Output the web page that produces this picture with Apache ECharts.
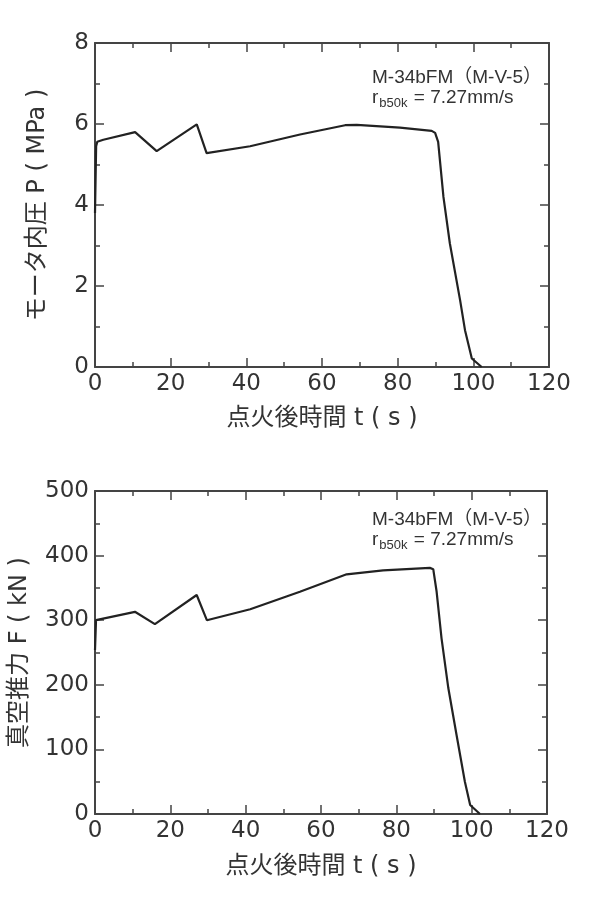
<!DOCTYPE html>
<html>
<head>
<meta charset="utf-8">
<script src="https://cdn.jsdelivr.net/npm/echarts@6/dist/echarts.min.js"></script>
<style>
  html, body { margin: 0; padding: 0; background: #fff; }
  #chart { width: 591px; height: 897px; }
</style>
</head>
<body>
<div id="chart"></div>
<script>
// motor pressure vs time (top)
const timeP = [0, 0.3, 0.6, 2.2, 10.6, 16.3, 26.9, 29.5, 41.0, 54.2, 66.1, 69.2, 80.6, 89.0, 89.9, 90.7, 92.1, 93.8, 96.5, 97.8, 99.6, 102.2];
const pressure = [3.8, 5.45, 5.56, 5.61, 5.80, 5.33, 5.99, 5.28, 5.45, 5.74, 5.97, 5.98, 5.91, 5.83, 5.78, 5.56, 4.2, 3.05, 1.65, 0.91, 0.21, 0];

// vacuum thrust vs time (bottom)
const timeF = [0, 0.27, 10.6, 15.9, 27.0, 29.7, 41.2, 54.4, 66.8, 76.5, 88.9, 89.8, 90.7, 92.0, 93.8, 96.0, 98.2, 99.6, 102.2];
const thrust = [254, 300, 313, 294, 339, 300, 317, 344, 371, 377, 381, 379, 344, 272, 195, 122, 50, 14, 0];

const xTicks = { min: 0, max: 120, interval: 20 };
const yTicksP = { min: 0, max: 8, interval: 2 };
const yTicksF = { min: 0, max: 500, interval: 100 };

const xName = '点火後時間 t ( s )';
const yNameP = 'モータ内圧 P ( MPa )';
const yNameF = '真空推力 F ( kN )';
const noteLine1 = 'M-34bFM（M-V-5）';

const TEXT = '#333';
const AXIS = '#444';
const FONT = '"DejaVu Sans", "Noto Sans CJK JP", sans-serif';
const NOTE_FONT = '"Liberation Sans", Arial, "Noto Sans CJK JP", sans-serif';

const chart = echarts.init(document.getElementById('chart'));

function axisBase(ticks, gridIndex, position, showLabel) {
  return {
    type: 'value',
    gridIndex,
    position,
    min: ticks.min,
    max: ticks.max,
    interval: ticks.interval,
    axisLine: { show: true, onZero: false, lineStyle: { color: AXIS, width: 2 } },
    axisTick: { show: true, inside: true, length: 9, lineStyle: { color: AXIS, width: 1.5 } },
    minorTick: { show: true, splitNumber: 2, length: 5, lineStyle: { color: AXIS, width: 1.5 } },
    splitLine: { show: false },
    axisLabel: { show: showLabel, color: TEXT, fontSize: 23, fontFamily: FONT, margin: 6 }
  };
}

const nameStyle = { color: TEXT, fontSize: 24, fontFamily: FONT };

const option = {
  animation: false,
  backgroundColor: '#fff',
  grid: [
    { left: 95, top: 43, width: 454, height: 324, outerBoundsMode: 'none', containLabel: false },
    { left: 95, top: 491, width: 452, height: 323, outerBoundsMode: 'none', containLabel: false }
  ],
  xAxis: [
    Object.assign(axisBase(xTicks, 0, 'bottom', true), { name: xName, nameLocation: 'middle', nameGap: 40, nameTextStyle: nameStyle }),
    axisBase(xTicks, 0, 'top', false),
    Object.assign(axisBase(xTicks, 1, 'bottom', true), { name: xName, nameLocation: 'middle', nameGap: 41, nameTextStyle: nameStyle }),
    axisBase(xTicks, 1, 'top', false)
  ],
  yAxis: [
    Object.assign(axisBase(yTicksP, 0, 'left', true), { name: yNameP, nameLocation: 'middle', nameGap: 45, nameTextStyle: nameStyle }),
    axisBase(yTicksP, 0, 'right', false),
    Object.assign(axisBase(yTicksF, 1, 'left', true), { name: yNameF, nameLocation: 'middle', nameGap: 63, nameTextStyle: nameStyle }),
    axisBase(yTicksF, 1, 'right', false)
  ],
  series: [
    {
      type: 'line',
      xAxisIndex: 0,
      yAxisIndex: 0,
      data: timeP.map((t, i) => [t, pressure[i]]),
      showSymbol: false,
      lineStyle: { color: '#222', width: 2.2 }
    },
    {
      type: 'line',
      xAxisIndex: 2,
      yAxisIndex: 2,
      data: timeF.map((t, i) => [t, thrust[i]]),
      showSymbol: false,
      lineStyle: { color: '#222', width: 2.2 }
    }
  ],
  graphic: [68, 510].map((top) => ({
    type: 'text',
    left: 372,
    top: top,
    style: {
      text: noteLine1 + '\n{a|r}{s|b50k}{a| = 7.27mm/s}',
      fill: TEXT,
      font: '19px ' + NOTE_FONT,
      lineHeight: 20,
      rich: {
        a: { fontSize: 19, fontFamily: NOTE_FONT, fill: TEXT, lineHeight: 20 },
        s: { fontSize: 13, fontFamily: NOTE_FONT, fill: TEXT, lineHeight: 20, padding: [10, 1, 0, 1] }
      }
    }
  }))
};

chart.setOption(option);
</script>
</body>
</html>
